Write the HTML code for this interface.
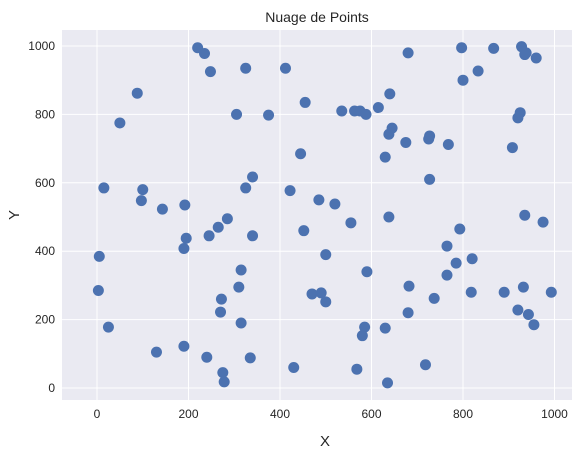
<!DOCTYPE html>
<html><head><meta charset="utf-8"><style>
body{margin:0;background:#fff;}
svg{display:block;font-family:"Liberation Sans","DejaVu Sans",sans-serif;}
</style></head><body>
<svg id="chart" width="583" height="457" viewBox="0 0 583 457">
<rect x="62" y="30" width="510" height="370" fill="#eaeaf2"/>
<g id="grid"></g>
<g id="points"></g>
<g id="ticks"></g>
<text x="317" y="22" text-anchor="middle" font-size="14" fill="#262626">Nuage de Points</text>
<text x="325" y="446" text-anchor="middle" font-size="15" fill="#262626">X</text>
<text x="19" y="215" text-anchor="middle" font-size="15" fill="#262626" transform="rotate(-90 19 215)">Y</text>
</svg>
<script>
const xTicks=[0,200,400,600,800,1000];
const yTicks=[0,200,400,600,800,1000];
const xVals=[5,3,25,15,50,88,97,100,130,143,190,192,195,190,220,235,248,245,240,265,270,272,285,275,278,305,310,315,315,325,325,335,340,340,375,412,422,430,445,452,455,470,485,490,500,500,520,535,555,563,568,575,580,588,585,590,615,630,630,635,638,640,638,645,675,680,680,682,718,725,727,727,737,765,765,768,785,793,797,800,820,818,833,867,890,908,920,920,925,928,935,932,938,935,943,955,960,975,993];
const yVals=[385,285,178,585,775,862,548,580,105,523,408,535,438,122,995,978,925,445,90,470,222,260,495,45,18,800,295,345,190,585,935,88,617,445,798,935,577,60,685,460,835,275,550,278,252,390,538,810,483,810,55,810,153,800,178,340,820,675,175,15,742,860,500,760,718,980,220,298,68,728,737,610,262,415,330,712,365,465,995,900,378,280,927,993,280,703,228,790,805,998,975,295,980,505,215,185,965,485,280];
const NS='http://www.w3.org/2000/svg';
const sx=v=>97+v*0.4575;
const sy=v=>388-v*0.342;
const grid=document.getElementById('grid'),ticks=document.getElementById('ticks'),pts=document.getElementById('points');
function mk(tag,attrs,parent){const e=document.createElementNS(NS,tag);for(const k in attrs)e.setAttribute(k,attrs[k]);parent.appendChild(e);return e;}
xTicks.forEach(t=>{
  const l=mk('line',{x1:sx(t),x2:sx(t),y1:30,y2:400,stroke:'#fff','stroke-width':1},grid);
  
  
  const tx=mk('text',{x:sx(t),y:418,'text-anchor':'middle','font-size':12,fill:'#262626'},ticks);
  tx.textContent=t;
  
  
});
yTicks.forEach(t=>{
  const l=mk('line',{x1:62,x2:572,y1:sy(t),y2:sy(t),stroke:'#fff','stroke-width':1},grid);
  
  
  const tx=mk('text',{x:55,y:sy(t)+4,'text-anchor':'end','font-size':12,fill:'#262626'},ticks);
  tx.textContent=t;
  
  
});
xVals.forEach((v,i)=>{
  const c=mk('circle',{cx:sx(v),cy:sy(yVals[i]),r:5.5,fill:'#4c72b0'},pts);
  
  
});
</script>
</body></html>
